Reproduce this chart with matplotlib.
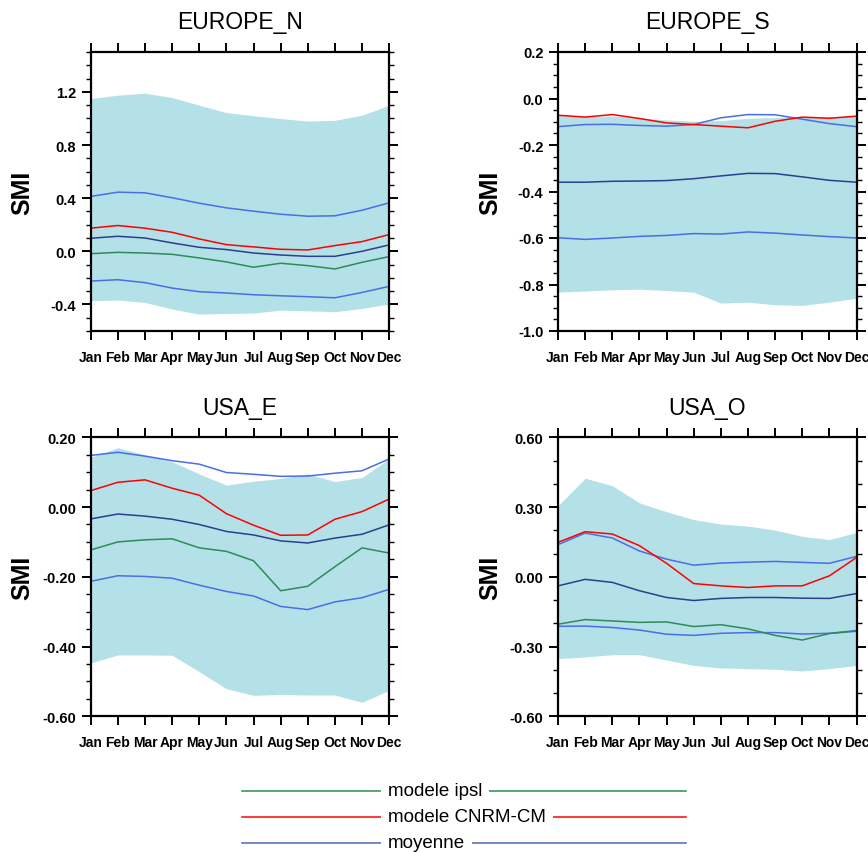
import numpy as np
import matplotlib
matplotlib.use("Agg")
import matplotlib.pyplot as plt
from matplotlib.lines import Line2D
from matplotlib.ticker import MultipleLocator, FormatStrFormatter

plt.rcParams['font.family'] = ['Liberation Sans', 'DejaVu Sans']
plt.rcParams['axes.unicode_minus'] = False

months = ['Jan', 'Feb', 'Mar', 'Apr', 'May', 'Jun', 'Jul', 'Aug', 'Sep', 'Oct', 'Nov', 'Dec']
regions = ['EUROPE_N', 'EUROPE_S', 'USA_E', 'USA_O']

# EUROPE_N
eun_env_hi = [1.15, 1.175, 1.19, 1.157, 1.10, 1.044, 1.02, 0.999, 0.98, 0.986, 1.024, 1.10]
eun_env_lo = [-0.372, -0.367, -0.385, -0.435, -0.473, -0.468, -0.465, -0.443, -0.448, -0.455, -0.43, -0.397]
eun_hi = [0.413, 0.445, 0.44, 0.403, 0.362, 0.327, 0.302, 0.279, 0.264, 0.267, 0.309, 0.365]
eun_lo = [-0.224, -0.214, -0.236, -0.277, -0.304, -0.314, -0.327, -0.335, -0.342, -0.35, -0.31, -0.264]
eun_mean = [0.098, 0.113, 0.10, 0.063, 0.03, 0.013, -0.013, -0.028, -0.038, -0.038, 0.0, 0.048]
eun_cnrm = [0.174, 0.194, 0.174, 0.143, 0.093, 0.05, 0.033, 0.015, 0.01, 0.043, 0.073, 0.126]
eun_ipsl = [-0.018, -0.008, -0.013, -0.023, -0.05, -0.08, -0.12, -0.09, -0.108, -0.133, -0.083, -0.04]

# EUROPE_S (no ipsl curve visible)
eus_env_hi = [-0.072, -0.078, -0.075, -0.085, -0.092, -0.098, -0.095, -0.085, -0.082, -0.08, -0.078, -0.075]
eus_env_lo = [-0.833, -0.828, -0.823, -0.82, -0.826, -0.833, -0.88, -0.876, -0.887, -0.89, -0.876, -0.859]
eus_hi = [-0.121, -0.112, -0.111, -0.116, -0.119, -0.112, -0.083, -0.069, -0.07, -0.089, -0.108, -0.121]
eus_lo = [-0.599, -0.606, -0.60, -0.593, -0.589, -0.581, -0.583, -0.574, -0.579, -0.587, -0.594, -0.60]
eus_mean = [-0.36, -0.36, -0.356, -0.355, -0.353, -0.345, -0.333, -0.322, -0.323, -0.337, -0.352, -0.36]
eus_cnrm = [-0.072, -0.08, -0.069, -0.086, -0.105, -0.112, -0.119, -0.126, -0.098, -0.08, -0.085, -0.076]
eus_ipsl = [np.nan] * 12

# USA_E
use_env_hi = [0.143, 0.17, 0.15, 0.13, 0.095, 0.063, 0.074, 0.082, 0.095, 0.073, 0.085, 0.138]
use_env_lo = [-0.447, -0.424, -0.424, -0.425, -0.472, -0.521, -0.54, -0.537, -0.539, -0.539, -0.56, -0.525]
use_hi = [0.148, 0.157, 0.146, 0.133, 0.123, 0.099, 0.094, 0.088, 0.089, 0.097, 0.104, 0.138]
use_lo = [-0.213, -0.197, -0.199, -0.204, -0.224, -0.242, -0.255, -0.285, -0.294, -0.272, -0.26, -0.236]
use_mean = [-0.034, -0.02, -0.026, -0.035, -0.05, -0.07, -0.08, -0.097, -0.103, -0.089, -0.078, -0.051]
use_cnrm = [0.047, 0.071, 0.078, 0.054, 0.034, -0.019, -0.052, -0.081, -0.08, -0.035, -0.013, 0.023]
use_ipsl = [-0.123, -0.10, -0.094, -0.091, -0.117, -0.127, -0.154, -0.24, -0.227, -0.171, -0.117, -0.132]

# USA_O
uso_env_hi = [0.306, 0.424, 0.392, 0.318, 0.28, 0.246, 0.227, 0.218, 0.201, 0.174, 0.16, 0.191]
uso_env_lo = [-0.352, -0.345, -0.335, -0.335, -0.358, -0.381, -0.392, -0.395, -0.398, -0.405, -0.395, -0.381]
uso_hi = [0.138, 0.188, 0.167, 0.111, 0.076, 0.05, 0.059, 0.063, 0.066, 0.062, 0.058, 0.088]
uso_lo = [-0.213, -0.212, -0.218, -0.229, -0.247, -0.252, -0.243, -0.24, -0.24, -0.246, -0.243, -0.231]
uso_mean = [-0.039, -0.011, -0.024, -0.06, -0.089, -0.102, -0.093, -0.089, -0.089, -0.092, -0.093, -0.072]
uso_cnrm = [0.148, 0.194, 0.184, 0.134, 0.058, -0.029, -0.039, -0.046, -0.039, -0.039, 0.004, 0.083]
uso_ipsl = [-0.204, -0.184, -0.19, -0.196, -0.194, -0.214, -0.206, -0.224, -0.252, -0.272, -0.244, -0.234]

panels = [
    (eun_env_hi, eun_env_lo, eun_hi, eun_lo, eun_mean, eun_cnrm, eun_ipsl),
    (eus_env_hi, eus_env_lo, eus_hi, eus_lo, eus_mean, eus_cnrm, eus_ipsl),
    (use_env_hi, use_env_lo, use_hi, use_lo, use_mean, use_cnrm, use_ipsl),
    (uso_env_hi, uso_env_lo, uso_hi, uso_lo, uso_mean, uso_cnrm, uso_ipsl),
]
ylims = [(-0.6, 1.5), (-1.0, 0.2), (-0.6, 0.2), (-0.6, 0.6)]
majors = [0.4, 0.2, 0.2, 0.3]
minors = [0.1, 0.05, 0.05, 0.1]
fmts = ['%.1f', '%.1f', '%.2f', '%.2f']

fill_col = '#b4e1e7'
bound_col = '#4a6ee6'
mean_col = '#2b3f8e'
cnrm_col = '#ff0000'
ipsl_col = '#2e8b57'
leg_mean_col = '#4f67b0'

fig = plt.figure(figsize=(8.68, 8.53), dpi=100)
W, H = 868.0, 853.0
lefts = [90.7, 558.0]
tops = [53.0, 438.3]
aw, ah = 298.5, 279.0
smi_right = [34.0, 502.0]

x = np.arange(12)
for i in range(4):
    col, row = i % 2, i // 2
    l, t = lefts[col], tops[row]
    ax = fig.add_axes([l / W, 1 - (t + ah) / H, aw / W, ah / H])
    env_hi, env_lo, hi, lo, mean, cnrm, ipsl = panels[i]
    ax.fill_between(x, env_lo, env_hi, color=fill_col, lw=0)
    ax.plot(x, hi, color=bound_col, lw=1.1)
    ax.plot(x, lo, color=bound_col, lw=1.1)
    ax.plot(x, mean, color=mean_col, lw=1.1)
    ax.plot(x, ipsl, color=ipsl_col, lw=1.1)
    ax.plot(x, cnrm, color=cnrm_col, lw=1.1)
    ax.set_xlim(0, 11)
    ax.set_ylim(*ylims[i])
    ax.set_xticks(x)
    ax.set_xticklabels(months)
    ax.yaxis.set_major_locator(MultipleLocator(majors[i]))
    ax.yaxis.set_minor_locator(MultipleLocator(minors[i]))
    ax.yaxis.set_major_formatter(FormatStrFormatter(fmts[i]))
    ax.tick_params(axis='both', which='major', direction='out', length=6.5, width=1.4,
                   top=True, right=True, pad=4)
    ax.tick_params(axis='y', which='major', labelsize=10.5)
    ax.tick_params(axis='y', which='minor', direction='out', length=3.5, width=1.0,
                   left=True, right=True)
    ax.tick_params(axis='x', which='major', pad=7, labelsize=10)
    for lab in ax.get_xticklabels() + ax.get_yticklabels():
        lab.set_fontweight('bold')
    for sp in ax.spines.values():
        sp.set_linewidth(1.6)
    ax.set_ylabel('SMI', fontsize=18, fontweight='bold')
    ax.yaxis.set_label_coords((smi_right[col] - l) / aw, 0.5)
    title_y = 29 if row == 0 else 415
    fig.text((l + aw / 2) / W, 1 - title_y / H, regions[i], ha='center', va='baseline', fontsize=16.5)

# legend
leg_labels = ['modele ipsl', 'modele CNRM-CM', 'moyenne']
leg_cols = [ipsl_col, cnrm_col, leg_mean_col]
leg_y = [792, 818, 844]
for lab, c, yy in zip(leg_labels, leg_cols, leg_y):
    fig.add_artist(Line2D([242 / W, 686 / W], [1 - yy / H, 1 - yy / H], color=c, lw=1.1,
                          transform=fig.transFigure))
    fig.text(388 / W, 1 - yy / H, lab, ha='left', va='center', fontsize=13.5,
             bbox=dict(facecolor='white', edgecolor='none', pad=5))

fig.savefig('out.png', dpi=100)
